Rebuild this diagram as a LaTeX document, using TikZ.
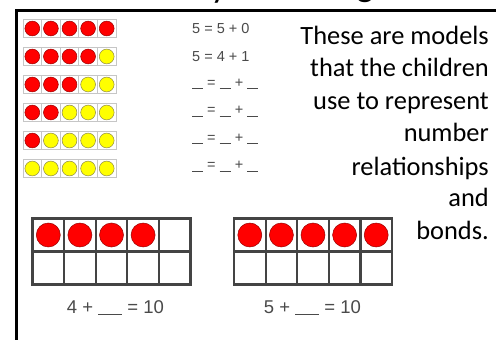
\documentclass[tikz,border=0pt]{standalone}
\usepackage{fontspec}
\setmainfont{Carlito}
\newfontfamily\eqfont{Liberation Sans}
\definecolor{fred}{HTML}{FF0000}
\definecolor{fyel}{HTML}{FFFF00}
\definecolor{eqgray}{HTML}{4A4A4A}
\definecolor{framegray}{HTML}{444444}
\begin{document}
\begin{tikzpicture}[x=1pt,y=-1pt,
  smallcell/.style={draw=gray!45,line width=0.8pt,fill=white},
  redctr/.style={fill=fred,draw=red!60!black,line width=0.5pt},
  yelctr/.style={fill=fyel,draw=yellow!50!black,line width=0.5pt},
  bigcell/.style={draw=framegray,line width=2.2pt,fill=white},
  eqtext/.style={font=\eqfont\fontsize{14.5}{16}\selectfont,text=eqgray,inner sep=0pt,anchor=west},
  bigeq/.style={font=\eqfont\fontsize{18.5}{20}\selectfont,text=eqgray,inner sep=0pt},
  bodytext/.style={font=\fontsize{26.4}{30}\selectfont,inner sep=0pt,anchor=base east},
  titletext/.style={font=\fontsize{36}{40}\selectfont,inner sep=0pt,anchor=base}]
\useasboundingbox (0,0) rectangle (496,340);
\fill[white] (0,0) rectangle (496,340);
% clipped title fragments
\begin{scope}
\clip (0,0) rectangle (496,9);
\node[titletext] (ty) at (219,-2) {y};
\node[titletext] (tg) at (365,-4) {g};
\end{scope}
% frame lines
\draw[line width=3pt] (16,340) -- (16,10) -- (496,10);
% small five-frames
\foreach \i in {0,...,5}{
  \pgfmathsetmacro{\yt}{19.5+28*\i}
  \pgfmathtruncatemacro{\nred}{5-\i}
  \foreach \j in {0,...,4}{
    \pgfmathsetmacro{\xl}{23+18.6*\j}
    \draw[smallcell] (\xl,\yt) rectangle ++(18.6,18);
    \ifnum\j<\nred
      \fill[redctr] (\xl+9.3,\yt+9) circle (7.4);
    \else
      \fill[yelctr] (\xl+9.3,\yt+9) circle (7.4);
    \fi
  }
}
% small equations
\newcommand{\blnk}{\textcolor{eqgray}{\rule[-1.5pt]{11pt}{0.9pt}}}
\node[eqtext] (e1) at (192,29) {5 = 5 + 0};
\node[eqtext] (e2) at (192,56.5) {5 = 4 + 1};
\foreach \i in {2,...,5}{
  \node[eqtext] (e\i b) at (192,{29+27.5*\i}) {\blnk{} = \blnk{} + \blnk};
}
% right text
\foreach \t/\yb [count=\k] in {These are models/45,that the children/76.7,use to represent/109,number/141.7,relationships/175,and/206.7,bonds./239}{
  \node[bodytext] (t\k) at (489,\yb) {\t};
}
% big ten-frames
\foreach \x/\nr [count=\f] in {32.5/4,234/5}{
  \foreach \r in {0,1}{
    \foreach \j in {0,...,4}{
      \draw[bigcell] (\x+31.6*\j,218.5+33*\r) rectangle ++(31.6,33);
    }
  }
  \foreach \j in {1,...,\nr}{
    \fill[redctr] (\x+31.6*\j-15.8,235) circle (12);
  }
}
\newcommand{\bigblnk}{\rule[-2pt]{24pt}{1pt}}
\node[bigeq] (L1) at (115.5,308) {4 + \bigblnk{} = 10};
\node[bigeq] (L2) at (312.5,308) {5 + \bigblnk{} = 10};
\end{tikzpicture}
\end{document}
